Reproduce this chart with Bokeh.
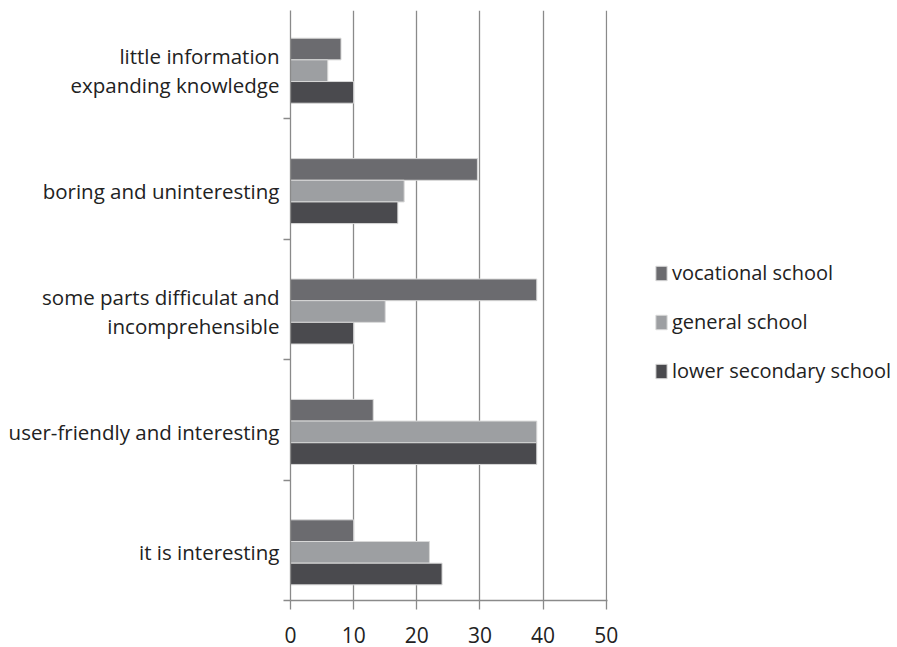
from bokeh.plotting import figure
from bokeh.models import FixedTicker, Legend, LegendItem, Range1d
from bokeh.embed import file_html
from bokeh.resources import INLINE

categories = ["it is interesting", "user-friendly and interesting",
              "some parts difficulat and\nincomprehensible",
              "boring and uninteresting",
              "little information\nexpanding knowledge"]
series_names = ["vocational school", "general school", "lower secondary school"]
vocational = [10, 13.1, 39, 29.6, 8]
general = [22, 39, 15, 18, 5.9]
lower_secondary = [24, 39, 10, 17, 10]
x_ticks = [0, 10, 20, 30, 40, 50]

colors = ["#6b6b6f", "#9d9fa2", "#4a4a4e"]
offsets = [0.18, 0.0, -0.18]
bar_h = 0.18

p = figure(frame_width=317, frame_height=590, output_backend="svg", toolbar_location=None,
           x_range=Range1d(0, 50.2), y_range=Range1d(-0.4, 4.5),
           min_border_left=290, min_border_right=290, min_border_top=10,
           min_border_bottom=47, outline_line_color=None)

ys = list(range(len(categories)))
renderers = []
for vals, col, off in zip([vocational, general, lower_secondary], colors, offsets):
    r = p.hbar(y=[y + off for y in ys], right=vals, left=0, height=bar_h,
               fill_color=col, line_color="#d8d8d8", line_width=1)
    renderers.append(r)

# x axis
p.xaxis.ticker = FixedTicker(ticks=x_ticks)
p.xaxis.axis_line_color = "#8a8a8a"
p.xaxis.axis_line_width = 1.3
p.xaxis.major_tick_line_color = "#8a8a8a"
p.xaxis.major_tick_line_width = 1.3
p.xaxis.major_tick_in = 0
p.xaxis.major_tick_out = 9
p.xaxis.minor_tick_line_color = None
p.xaxis.major_label_text_font = "Open Sans"
p.xaxis.major_label_text_font_size = "21px"
p.xaxis.major_label_text_color = "#222222"
p.xaxis.major_label_standoff = 17

# y axis
p.yaxis.ticker = FixedTicker(ticks=ys, minor_ticks=[y - 0.4 for y in ys])
p.yaxis.major_label_overrides = {i: c for i, c in enumerate(categories)}
p.yaxis.axis_line_color = "#8a8a8a"
p.yaxis.axis_line_width = 1.3
p.yaxis.major_tick_line_color = None
p.yaxis.major_tick_in = 0
p.yaxis.major_tick_out = 0
p.yaxis.minor_tick_line_color = "#8a8a8a"
p.yaxis.minor_tick_line_width = 1.3
p.yaxis.minor_tick_in = 0
p.yaxis.minor_tick_out = 7
p.yaxis.major_label_text_font = "Open Sans"
p.yaxis.major_label_text_font_size = "20.5px"
p.yaxis.major_label_text_color = "#222222"
p.yaxis.major_label_text_line_height = 1.05
p.yaxis.major_label_standoff = 4

p.xgrid.ticker = FixedTicker(ticks=x_ticks[1:])
p.xgrid.grid_line_color = "#8a8a8a"
p.xgrid.grid_line_width = 1.3
p.ygrid.grid_line_color = None

legend = Legend(items=[LegendItem(label=n, renderers=[r]) for n, r in zip(series_names, renderers)],
                location=(47, 216), orientation="vertical",
                glyph_width=14, glyph_height=18, label_height=20, spacing=22,
                label_standoff=4, padding=0, margin=0,
                border_line_color=None, background_fill_alpha=0,
                label_text_font="Open Sans", label_text_font_size="20px",
                label_text_color="#222222")
p.add_layout(legend, "right")

open("out.html", "w").write(file_html(p, INLINE))
